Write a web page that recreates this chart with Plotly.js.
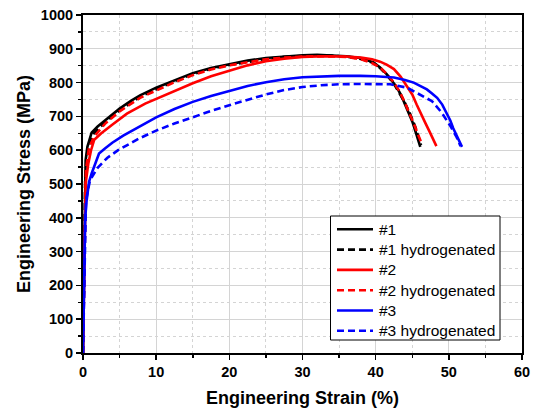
<!DOCTYPE html>
<html>
<head>
<meta charset="utf-8">
<script src="https://cdn.plot.ly/plotly-3.0.1.min.js"></script>
<style>html,body{margin:0;padding:0;background:#fff;}#chart{width:538px;height:411px;}</style>
</head>
<body>
<div id="chart"></div>
<script>
// Series names
const names = ["#1", "#1 hydrogenated", "#2", "#2 hydrogenated", "#3", "#3 hydrogenated"];

// #1
const s1x = [0, 0.1, 0.18, 0.25, 0.36, 0.6, 0.9, 1.18, 2, 3, 4, 5, 6.6, 7.8, 10, 12.5, 15, 17.5, 20, 22.5, 25, 27.5, 30, 32, 34, 36, 37.9, 39.7, 40.6, 41.5, 42.2, 42.9, 43.5, 44.0, 44.5, 45.0, 45.6, 46.1];
const s1y = [0, 200, 400, 500, 570, 610, 635, 652, 670, 688, 706, 723, 747, 762, 785, 807, 828, 843, 855, 865, 873, 878, 881, 882, 881, 878, 873, 860, 845, 825, 806, 785, 762, 735, 710, 685, 645, 610];
// #1 hydrogenated
const h1x = [0, 0.15, 0.3, 0.6, 1.0, 1.4, 3, 5, 7.8, 10, 12.5, 15, 17.5, 20, 22.5, 25, 27.5, 30, 32, 34, 36, 38, 39.7, 40.6, 41.5, 42.5, 43.3, 44.0, 44.7, 45.4, 46.2];
const h1y = [0, 300, 520, 595, 630, 648, 682, 718, 758, 780, 804, 825, 841, 852, 862, 870, 876, 880, 881, 880, 877, 870, 858, 843, 823, 796, 768, 740, 708, 670, 615];
// #2
const s2x = [0, 0.15, 0.36, 0.72, 1.1, 1.54, 2.5, 3.9, 6, 8.5, 10, 12.5, 15, 17.5, 20, 22.5, 25, 27.5, 30, 33, 36, 38, 39.5, 40.6, 41.5, 42.5, 43.4, 44.3, 45, 45.6, 46.2, 46.8, 47.3, 47.7, 48.3];
const s2y = [0, 250, 501, 560, 600, 631, 650, 674, 708, 738, 752, 776, 798, 819, 836, 851, 863, 871, 876, 878, 877, 874, 869, 862, 853, 840, 818, 790, 765, 735, 705, 680, 658, 640, 612];
// #2 hydrogenated
const h2x = [0, 0.2, 0.4, 0.8, 1.5, 3, 5, 7.8, 10, 12.5, 15, 17.5, 20, 22.5, 25, 27.5, 30, 33, 36, 38, 39.5, 40.6, 41.5, 42.5, 43.2, 43.8, 44.3, 44.7, 45.2, 45.6, 46.0, 46.3];
const h2y = [0, 350, 540, 605, 640, 678, 715, 755, 777, 801, 822, 839, 851, 861, 869, 874, 877, 878, 876, 869, 858, 845, 826, 800, 776, 750, 727, 705, 680, 655, 635, 620];
// #3
const s3x = [0, 0.15, 0.3, 0.5, 0.82, 1.18, 1.7, 2.19, 3, 4, 5.5, 7.7, 10, 12.5, 15, 17.5, 20, 22.5, 25, 27.5, 30, 32.5, 35, 37.9, 40, 42.5, 44, 45.2, 46.1, 47, 47.7, 48.4, 49.1, 49.7, 50.2, 50.6, 51.1, 51.5, 51.8];
const s3y = [0, 200, 400, 452, 506, 531, 565, 590, 605, 622, 643, 670, 697, 722, 743, 760, 776, 790, 801, 810, 816, 819, 820, 820, 819, 815, 808, 800, 791, 780, 768, 755, 735, 710, 688, 665, 642, 620, 610];
// #3 hydrogenated
const h3x = [0, 0.2, 0.4, 0.95, 2, 3.3, 4.8, 7.7, 10, 12.5, 15, 17.5, 20, 22.5, 25, 27.5, 30, 32.5, 35, 37.9, 40, 42, 44.3, 46.1, 47.7, 49, 50.2, 51.1, 51.6];
const h3y = [0, 300, 450, 511, 548, 577, 600, 635, 658, 679, 698, 716, 733, 750, 765, 778, 787, 792, 795, 796, 796, 795, 785, 765, 745, 712, 672, 637, 612];

const colors = ["#000000", "#000000", "#ff0000", "#ff0000", "#0000ff", "#0000ff"];
const dashes = ["solid", "7px,4px", "solid", "7px,4px", "solid", "7px,4px"];
const xs = [s1x, h1x, s2x, h2x, s3x, h3x];
const ys = [s1y, h1y, s2y, h2y, s3y, h3y];

const traces = names.map((n, i) => ({
  x: xs[i], y: ys[i], name: n, type: "scatter", mode: "lines", showlegend: false,
  line: {color: colors[i], width: 2.6, dash: dashes[i], shape: "linear"}
}));

// Plot area geometry (pixels) used to place the legend box in paper coords
const L = 83, R = 522, T = 15, B = 353;
const px = v => (v - L) / (R - L);
const py = v => (B - v) / (B - T);

const shapes = [{
  type: "rect", xref: "paper", yref: "paper", layer: "above",
  x0: px(330.5), x1: px(500), y0: py(340), y1: py(216),
  line: {color: "#000", width: 1}, fillcolor: "#fff"
}];
const annotations = [];
names.forEach((n, i) => {
  const yy = py(229.3 + i * 20.3);
  shapes.push({
    type: "line", xref: "paper", yref: "paper", layer: "above",
    x0: px(337), x1: px(373), y0: yy, y1: yy,
    line: {color: colors[i], width: 2.6, dash: dashes[i]}
  });
  annotations.push({
    xref: "paper", yref: "paper", x: px(376.5), y: yy, xanchor: "left", yanchor: "middle",
    text: n, showarrow: false,
    font: {family: "Liberation Sans, Arial, sans-serif", size: 15.5, color: "#000"}
  });
});

const gridCol = "#d4d4d4";
const tickFont = {family: "Liberation Sans, Arial, sans-serif", size: 14.5, color: "#000", weight: 700};
const titleFont = {family: "Liberation Sans, Arial, sans-serif", size: 18, color: "#000", weight: 700};
const layout = {
  width: 538, height: 411,
  margin: {l: L, r: 538 - R, t: T, b: 411 - B},
  paper_bgcolor: "#fff", plot_bgcolor: "#fff",
  showlegend: false,
  shapes: shapes,
  annotations: annotations,
  xaxis: {
    range: [0, 60], dtick: 10, tick0: 0,
    showline: true, linecolor: "#000", linewidth: 2, mirror: true,
    ticks: "outside", ticklen: 5, tickwidth: 1.5, tickcolor: "#000",
    showgrid: true, gridcolor: gridCol, gridwidth: 1, zeroline: false,
    tickfont: tickFont,
    minor: {dtick: 5, showgrid: true, gridcolor: gridCol, griddash: "dot", gridwidth: 1, ticks: "outside", ticklen: 3, tickcolor: "#000"},
    title: {text: "Engineering Strain (%)", font: titleFont, standoff: 12}
  },
  yaxis: {
    range: [0, 1000], dtick: 100, tick0: 0,
    showline: true, linecolor: "#000", linewidth: 2, mirror: true,
    ticks: "outside", ticklen: 5, tickwidth: 1.5, tickcolor: "#000",
    showgrid: true, gridcolor: gridCol, gridwidth: 1, zeroline: false,
    tickfont: tickFont,
    minor: {dtick: 50, showgrid: true, gridcolor: gridCol, griddash: "dot", gridwidth: 1, ticks: "outside", ticklen: 3, tickcolor: "#000"},
    title: {text: "Engineering Stress (MPa)", font: titleFont, standoff: 6}
  }
};

Plotly.newPlot("chart", traces, layout, {displayModeBar: false, staticPlot: true});
</script>
</body>
</html>
